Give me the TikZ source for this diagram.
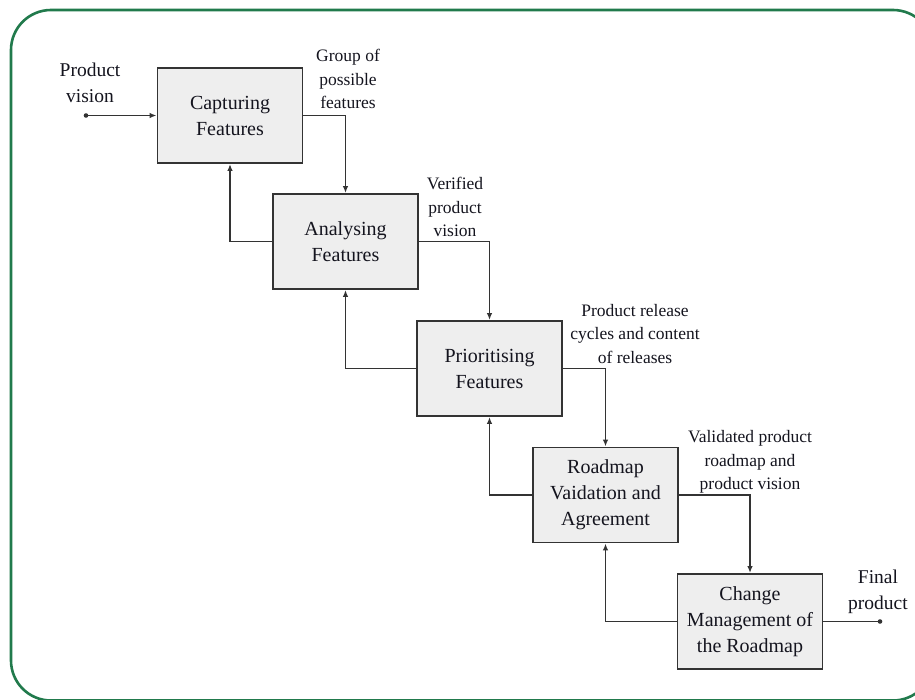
\documentclass[tikz,border=0pt]{standalone}
\usepackage{fontspec}
\setmainfont{Liberation Serif}
\usetikzlibrary{arrows.meta}
\definecolor{framegreen}{HTML}{217A4C}
\definecolor{boxfill}{HTML}{EEEEEE}
\definecolor{boxline}{HTML}{333333}
\definecolor{txt}{HTML}{14141E}
\tikzset{
  stepbox/.style={draw=boxline, fill=boxfill, line width=1.9pt, minimum width=145pt, minimum height=95pt,
    align=center, inner sep=2pt, text=txt, font=\fontsize{20}{26}\selectfont},
  lbl/.style={align=center, inner sep=0pt, text=txt, font=\fontsize{17.5}{23.5}\selectfont},
  lblbig/.style={align=center, inner sep=0pt, text=txt, font=\fontsize{19.5}{26}\selectfont},
  arr/.style={draw=boxline, line width=1.7pt, -{Latex[length=7pt,width=5.5pt]}},
  plain/.style={draw=boxline, line width=1.7pt},
}
\begin{document}
\begin{tikzpicture}[x=1pt,y=-1pt]
\useasboundingbox (0,0) rectangle (915,700);
\begin{scope}
\clip (0,0) rectangle (915,700);
\fill[white] (0,0) rectangle (915,700);
\draw[framegreen, line width=2.6pt, rounded corners=40pt] (11,10) rectangle (933,700.5);
\end{scope}

% boxes
\node[stepbox] (cap) at (230,115.5) {Capturing\\Features};
\node[stepbox] (ana) at (345.5,241.5) {Analysing\\Features};
\node[stepbox] (pri) at (489.5,368.5) {Prioritising\\Features};
\node[stepbox] (road) at (605.5,495) {Roadmap\\Vaidation and\\Agreement};
\node[stepbox] (chg) at (750,621.5) {Change\\Management of\\the Roadmap};

% input / output
\coordinate (pin) at (86,115.5);
\coordinate (pout) at (880,621.5);
\fill[boxline] (pin) circle (2.3pt);
\fill[boxline] (pout) circle (2.3pt);
\draw[arr] (pin) -- (cap.west);
\draw[plain] (chg.east) -- (pout);

% forward flow
\draw[arr] (cap.east) -| (ana.north);
\draw[arr] (ana.east) -| (pri.north);
\draw[arr] (pri.east) -| (road.north);
\draw[arr] (road.east) -| (chg.north);

% feedback
\draw[arr] (ana.west) -| (cap.south);
\draw[arr] (pri.west) -| (ana.south);
\draw[arr] (road.west) -| (pri.south);
\draw[arr] (chg.west) -| (road.south);

% labels
\node[lblbig] (lpv) at (90,83) {Product\\vision};
\node[lbl] (l1) at (348,79) {Group of\\possible\\features};
\node[lbl] (l2) at (455,207) {Verified\\product\\vision};
\node[lbl] (l3) at (635,334) {Product release\\cycles and content\\of releases};
\node[lbl] (l4) at (750,462) {Validated product\\roadmap and\\product vision};
\node[lblbig] (l5) at (878,592) {Final\\product};
\end{tikzpicture}
\end{document}
